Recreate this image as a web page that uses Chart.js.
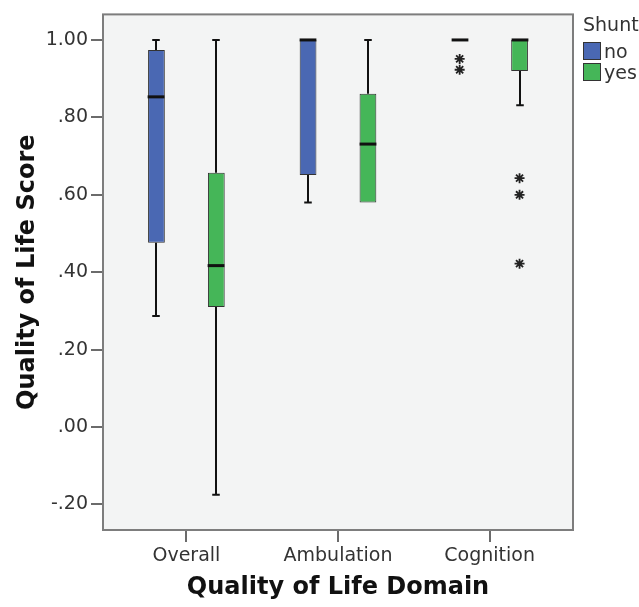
<!DOCTYPE html>
<html lang="en">
<head>
<meta charset="UTF-8">
<title>Quality of Life Score by Domain</title>
<script src="https://cdn.jsdelivr.net/npm/chart.js"></script>
<style>
  body { margin: 0; background: #fff; }
  .wrap { position: relative; width: 639px; height: 607px; }
  .legend { position: absolute; left: 583px; top: 10px; font-family: "DejaVu Sans", sans-serif; font-size: 19px; color: #333; }
  .legend .row { display: flex; align-items: center; height: 21px; }
  .legend .sw { width: 16px; height: 16px; border: 1px solid #333; margin-right: 3px; }
  .legend .title { height: 30px; line-height: 28px; }
</style>
</head>
<body>
<div class="wrap">
  <canvas id="qolChart"></canvas>
  <div class="legend">
    <div class="title">Shunt</div>
    <div class="row"><span class="sw" style="background:#4a68b3"></span>no</div>
    <div class="row"><span class="sw" style="background:#45b658"></span>yes</div>
  </div>
</div>
<script>
// categories and y ticks
const categories = ['Overall', 'Ambulation', 'Cognition'];
const yTicks = [-0.2, 0, 0.2, 0.4, 0.6, 0.8, 1.0];

// Shunt = no
const noMin    = [0.287, 0.580, 1.00];
const noQ1     = [0.476, 0.651, 1.00];
const noMedian = [0.853, 1.00, 1.00];
const noQ3     = [0.974, 1.00, 1.00];
const noMax    = [1.00, 1.00, 1.00];
const noOutlierCat = [2, 2];
const noOutlierVal = [0.951, 0.923];

// Shunt = yes
const yesMin    = [-0.175, 0.580, 0.831];
const yesQ1     = [0.310, 0.580, 0.920];
const yesMedian = [0.417, 0.731, 1.00];
const yesQ3     = [0.657, 0.861, 1.00];
const yesMax    = [1.00, 1.00, 1.00];
const yesOutlierCat = [2, 2, 2];
const yesOutlierVal = [0.643, 0.600, 0.422];

const catPct = 0.79;
const barPct = 0.28;
const fontName = '"DejaVu Sans", sans-serif';

function fmtTick(v) {
    let s = Math.abs(v).toFixed(2).replace(/^0/, '');
    return (v < -1e-9 ? '-' : '') + s;
}

// whiskers, medians, plot background and frame
const boxPlugin = {
    id: 'boxWhiskers',
    beforeDraw(chart) {
        const { ctx, chartArea: a } = chart;
        ctx.save();
        ctx.fillStyle = '#f3f4f4';
        ctx.fillRect(a.left, a.top, a.width, a.height);
        ctx.restore();
    },
    afterDatasetsDraw(chart) {
        const { ctx } = chart;
        const y = chart.scales.y;
        const groups = [
            [0, noMin, noQ1, noMedian, noQ3, noMax],
            [1, yesMin, yesQ1, yesMedian, yesQ3, yesMax]
        ];
        ctx.save();
        ctx.strokeStyle = '#111';
        groups.forEach(([di, lo, q1, med, q3, hi]) => {
            const meta = chart.getDatasetMeta(di);
            meta.data.forEach((bar, i) => {
                const cx = Math.round(bar.x);
                const w = bar.width;
                const cap = w * 0.45;
                ctx.lineWidth = 2;
                const segs = [[q3[i], hi[i]], [q1[i], lo[i]]];
                segs.forEach(([from, to]) => {
                    if (Math.abs(from - to) < 1e-9) return;
                    const y1 = y.getPixelForValue(from);
                    const y2 = y.getPixelForValue(to);
                    ctx.beginPath();
                    ctx.moveTo(cx, y1);
                    ctx.lineTo(cx, y2);
                    ctx.moveTo(cx - cap / 2, y2);
                    ctx.lineTo(cx + cap / 2, y2);
                    ctx.stroke();
                });
                ctx.lineWidth = 3;
                const ym = y.getPixelForValue(med[i]);
                ctx.beginPath();
                ctx.moveTo(cx - w / 2, ym);
                ctx.lineTo(cx + w / 2, ym);
                ctx.stroke();
            });
        });
        ctx.restore();
    },
    afterDraw(chart) {
        const { ctx, chartArea: a } = chart;
        ctx.save();
        ctx.strokeStyle = '#7d7d7d';
        ctx.lineWidth = 2;
        ctx.strokeRect(a.left, a.top, a.width, a.height);
        ctx.restore();
    }
};

const ctx = document.getElementById('qolChart').getContext('2d');
new Chart(ctx, {
    type: 'bar',
    data: {
        datasets: [
            {
                label: 'no',
                data: categories.map((c, i) => ({ x: i + 1, y: [noQ1[i], noQ3[i]] })),
                backgroundColor: '#4a68b3',
                borderColor: '#333',
                borderWidth: 1,
                borderSkipped: false,
                categoryPercentage: catPct,
                barPercentage: barPct
            },
            {
                label: 'yes',
                data: categories.map((c, i) => ({ x: i + 1, y: [yesQ1[i], yesQ3[i]] })),
                backgroundColor: '#45b658',
                borderColor: '#333',
                borderWidth: 1,
                borderSkipped: false,
                categoryPercentage: catPct,
                barPercentage: barPct
            },
            {
                type: 'scatter',
                label: 'no outliers',
                data: noOutlierCat.map((c, k) => ({ x: c + 1 - catPct / 4, y: noOutlierVal[k] })),
                pointStyle: 'star',
                radius: 5,
                borderColor: '#222',
                borderWidth: 1.8,
                backgroundColor: '#222'
            },
            {
                type: 'scatter',
                label: 'yes outliers',
                data: yesOutlierCat.map((c, k) => ({ x: c + 1 + catPct / 4, y: yesOutlierVal[k] })),
                pointStyle: 'star',
                radius: 5,
                borderColor: '#222',
                borderWidth: 1.8,
                backgroundColor: '#222'
            }
        ]
    },
    options: {
        responsive: true,
        maintainAspectRatio: false,
        animation: false,
        layout: { padding: { top: 7, right: 66, left: 0, bottom: 0 } },
        plugins: {
            legend: { display: false },
            tooltip: { enabled: false }
        },
        scales: {
            x: {
                type: 'linear',
                min: 0.45,
                max: 3.55,
                offset: false,
                afterBuildTicks: (s) => { s.ticks = categories.map((c, i) => ({ value: i + 1 })); },
                afterFit: (s) => { s.height = 77; },
                grid: { offset: false, drawOnChartArea: false, drawTicks: true, tickLength: 12, color: '#6b6b6b', lineWidth: 2 },
                border: { display: false },
                ticks: {
                    padding: 3,
                    color: '#333',
                    font: { family: fontName, size: 19 },
                    callback: (v) => categories[Math.round(v) - 1]
                },
                title: {
                    display: true,
                    text: 'Quality of Life Domain',
                    color: '#111',
                    font: { family: fontName, size: 24, weight: 'bold' },
                    padding: { top: 0, bottom: 5 }
                }
            },
            y: {
                min: -0.266,
                max: 1.066,
                afterBuildTicks: (s) => { s.ticks = yTicks.map(v => ({ value: v })); },
                afterFit: (s) => { s.width = 103; },
                grid: { drawOnChartArea: false, drawTicks: true, tickLength: 12, color: '#6b6b6b', lineWidth: 2 },
                border: { display: false },
                ticks: {
                    padding: 3,
                    color: '#333',
                    font: { family: fontName, size: 19 },
                    callback: (v) => fmtTick(v)
                },
                title: {
                    display: true,
                    text: 'Quality of Life Score',
                    color: '#111',
                    font: { family: fontName, size: 24, weight: 'bold' },
                    padding: { top: 13, bottom: 0 }
                }
            }
        }
    },
    plugins: [boxPlugin]
});
</script>
</body>
</html>
